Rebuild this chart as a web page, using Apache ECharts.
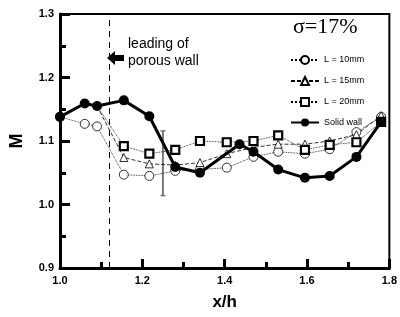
<!DOCTYPE html>
<html>
<head>
<meta charset="utf-8">
<script src="https://cdn.jsdelivr.net/npm/echarts@6/dist/echarts.min.js"></script>
<style>
  html, body { margin: 0; padding: 0; background: #fff; }
  #chart { width: 400px; height: 317px; }
</style>
</head>
<body>
<div id="chart"></div>
<script>
// x/h positions of the porous-wall measurements
const xL10 = [1.0, 1.06, 1.09, 1.155, 1.217, 1.28, 1.34, 1.405, 1.47, 1.53, 1.595, 1.655, 1.72, 1.78];
const mL10 = [1.138, 1.127, 1.123, 1.047, 1.045, 1.053, 1.055, 1.058, 1.075, 1.083, 1.08, 1.087, 1.114, 1.138];
// L=15 and L=20 branch off the solid-wall curve at x/h = 1.09
const xPorous = [1.09, 1.155, 1.217, 1.28, 1.34, 1.405, 1.47, 1.53, 1.595, 1.655, 1.72, 1.78];
const mL15 = [1.155, 1.074, 1.064, 1.062, 1.066, 1.08, 1.09, 1.095, 1.095, 1.1, 1.11, 1.14];
const mL20 = [1.155, 1.092, 1.08, 1.086, 1.1, 1.098, 1.1, 1.109, 1.086, 1.094, 1.098, 1.13];
// solid wall
const xSolid = [1.0, 1.06, 1.09, 1.155, 1.217, 1.28, 1.34, 1.436, 1.47, 1.53, 1.595, 1.655, 1.72, 1.78];
const mSolid = [1.138, 1.159, 1.155, 1.164, 1.139, 1.059, 1.05, 1.095, 1.083, 1.055, 1.042, 1.045, 1.075, 1.13];
// error bar and leading edge
const errX = 1.25;
const errRange = [1.014, 1.116];
const leadingX = 1.124;
const xTicks = [1.0, 1.2, 1.4, 1.6, 1.8];
const yTicks = [0.9, 1.0, 1.1, 1.2, 1.3];

// the shared branch point is drawn by the solid-wall marker only
const pairs = (xs, ys, hideFirst) => xs.map((x, i) =>
  hideFirst && i === 0 ? { value: [x, ys[i]], symbol: 'none' } : [x, ys[i]]);

const chart = echarts.init(document.getElementById('chart'));
const font = 'Liberation Sans, Arial, sans-serif';

chart.setOption({
  animation: false,
  backgroundColor: '#fff',
  title: {
    text: 'σ=17%', left: 288, top: 11,
    textStyle: { fontFamily: 'Liberation Serif, serif', fontSize: 22, fontWeight: 'normal', color: '#000' }
  },
  legend: {
    orient: 'vertical', left: 285, top: 50, itemWidth: 28, itemHeight: 10, itemGap: 11,
    textStyle: { fontFamily: font, fontSize: 9, color: '#000', letterSpacing: -0.5 },
    data: ['L = 10mm', 'L = 15mm', 'L = 20mm', 'Solid wall']
  },
  grid: { left: 56, right: 8, top: 14, bottom: 49, show: true, borderColor: '#000', borderWidth: 2 },
  xAxis: {
    type: 'value', min: xTicks[0], max: xTicks[xTicks.length - 1], interval: 0.2,
    name: 'x/h', nameLocation: 'middle', nameGap: 26,
    nameTextStyle: { fontFamily: font, fontSize: 17, fontWeight: 'bold', color: '#000' },
    axisLine: { lineStyle: { color: '#000', width: 3 } },
    axisTick: { inside: true, length: 9, lineStyle: { color: '#000', width: 3 } },
    minorTick: { show: true, splitNumber: 2, length: 6, lineStyle: { color: '#000', width: 3 } },
    axisLabel: { fontFamily: font, fontSize: 11, fontWeight: 'bold', color: '#000', margin: 7,
      formatter: v => v.toFixed(1) },
    splitLine: { show: false }
  },
  yAxis: {
    type: 'value', min: yTicks[0], max: yTicks[yTicks.length - 1], interval: 0.1,
    name: 'M', nameLocation: 'middle', nameGap: 34, nameRotate: 90,
    nameTextStyle: { fontFamily: font, fontSize: 18, fontWeight: 'bold', color: '#000' },
    axisLine: { lineStyle: { color: '#000', width: 3 } },
    axisTick: { inside: true, length: 10, lineStyle: { color: '#000', width: 3 } },
    minorTick: { show: true, splitNumber: 2, length: 6, lineStyle: { color: '#000', width: 3 } },
    axisLabel: { fontFamily: font, fontSize: 11, fontWeight: 'bold', color: '#000', margin: 6,
      formatter: v => v.toFixed(1) },
    splitLine: { show: false }
  },
  graphic: [
    { type: 'text', left: 128, top: 36,
      style: { text: 'leading of\nporous wall', fontFamily: font, fontSize: 14, lineHeight: 17, fill: '#000' } },
    { type: 'polygon', shape: { points: [[107, 58], [115, 51], [115, 55], [124, 55], [124, 61], [115, 61], [115, 65]] },
      style: { fill: '#000' } }
  ],
  series: [
    {
      name: 'L = 10mm', type: 'line', data: pairs(xL10, mL10),
      symbol: 'circle', symbolSize: 9, itemStyle: { color: '#fff', borderColor: '#000', borderWidth: 0.8 },
      lineStyle: { color: '#000', width: 0.8, type: 'dotted' }, z: 2
    },
    {
      name: 'L = 15mm', type: 'line', data: pairs(xPorous, mL15, true),
      symbol: 'triangle', symbolSize: 8, itemStyle: { color: '#fff', borderColor: '#000', borderWidth: 0.8 },
      lineStyle: { color: '#000', width: 0.8, type: [4, 2] }, z: 2
    },
    {
      name: 'L = 20mm', type: 'line', data: pairs(xPorous, mL20, true),
      symbol: 'rect', symbolSize: 8, itemStyle: { color: '#fff', borderColor: '#000', borderWidth: 2.2 },
      lineStyle: { color: '#000', width: 0.8, type: 'dotted' }, z: 3
    },
    {
      name: 'Solid wall', type: 'line', data: pairs(xSolid, mSolid),
      symbol: 'circle', symbolSize: 10, itemStyle: { color: '#000' },
      lineStyle: { color: '#000', width: 3 }, z: 4
    },
    {
      name: 'error', type: 'line', data: errRange.map(v => [errX, v]),
      symbol: 'rect', symbolSize: [5, 1.5], itemStyle: { color: '#777' },
      lineStyle: { color: '#777', width: 2 }, z: 1,
      markLine: {
        silent: true, symbol: 'none', label: { show: false },
        lineStyle: { color: '#000', width: 1, type: [6, 5] },
        data: [{ xAxis: leadingX }]
      }
    }
  ]
});
</script>
</body>
</html>
